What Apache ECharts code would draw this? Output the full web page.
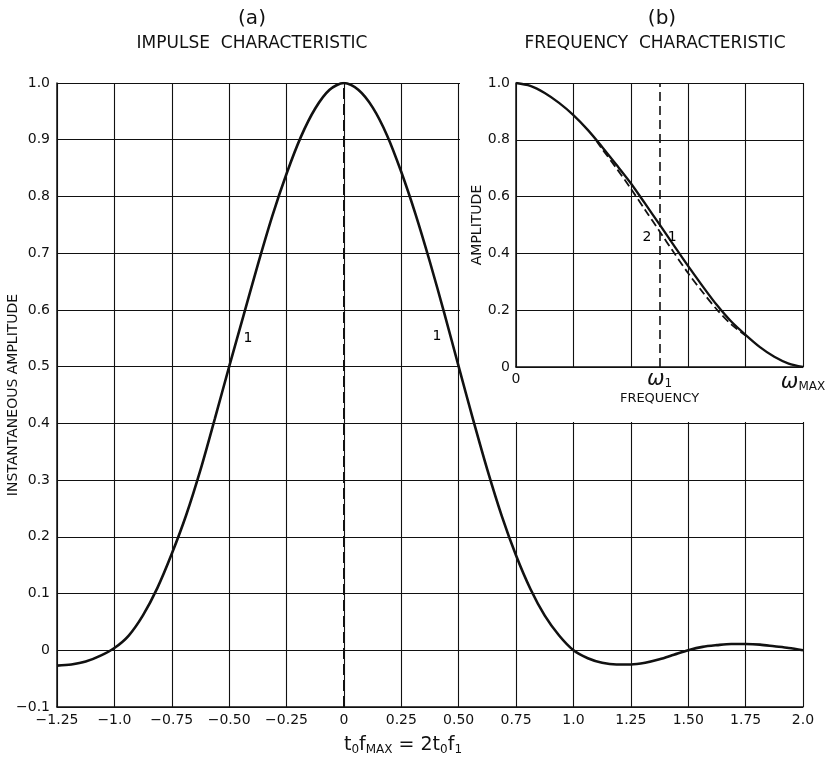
<!DOCTYPE html>
<html><head><meta charset="utf-8">
<script src="https://cdn.jsdelivr.net/npm/echarts@6/dist/echarts.min.js"></script>
<style>html,body{margin:0;padding:0;background:#fff}#c{width:826px;height:757px}</style>
</head><body><div id="c"></div>
<script>
// ---- (a) impulse characteristic ----
const impulseX = [-1.25,-1.1875,-1.125,-1.0625,-1.0,-0.9375,-0.875,-0.8125,-0.75,-0.6875,-0.625,-0.5625,-0.5,-0.4375,-0.375,-0.3125,-0.25,-0.1875,-0.125,-0.0625,0,
  0.0625,0.125,0.1875,0.25,0.3125,0.375,0.4375,0.5,0.5625,0.625,0.6875,0.75,0.8125,0.875,0.9375,1.0,1.0625,1.125,1.1875,1.25,1.3125,1.375,1.4375,1.5,1.5625,1.625,1.6875,1.75,1.8125,1.875,1.9375,2.0];
const impulseY = [-0.027,-0.025,-0.020,-0.010,0.004,0.026,0.062,0.110,0.170,0.238,0.318,0.408,0.500,0.590,0.680,0.765,0.840,0.905,0.955,0.988,1.0,
  0.988,0.957,0.908,0.843,0.768,0.684,0.594,0.500,0.407,0.318,0.237,0.167,0.108,0.061,0.026,0.0,-0.014,-0.022,-0.025,-0.025,-0.022,-0.016,-0.008,0.0,0.006,0.009,0.011,0.011,0.010,0.007,0.004,0.0];
const xTickLabels = ['\u22121.25','\u22121.0','\u22120.75','\u22120.50','\u22120.25','0','0.25','0.50','0.75','1.0','1.25','1.50','1.75','2.0'];
const yTickLabels = ['\u22120.1','0','0.1','0.2','0.3','0.4','0.5','0.6','0.7','0.8','0.9','1.0'];
const curveLabels = [['1', -0.418, 0.55], ['1', 0.405, 0.553]];

// ---- (b) frequency characteristic ----
const freqX = [0,0.05,0.1,0.15,0.2,0.25,0.3,0.35,0.4,0.45,0.5,0.55,0.6,0.65,0.7,0.75,0.8,0.85,0.9,0.95,1.0];
const freqCurve1 = [1.0,0.99,0.965,0.93,0.887,0.835,0.775,0.712,0.647,0.575,0.502,0.428,0.355,0.285,0.218,0.16,0.113,0.07,0.036,0.012,0.0];
const freqCurve2X = [0.28,0.3,0.35,0.4,0.45,0.5,0.55,0.6,0.65,0.7,0.75,0.8];
const freqCurve2 = [0.797,0.768,0.7,0.628,0.553,0.478,0.403,0.33,0.264,0.202,0.15,0.111];
const insetYTickLabels = ['0','0.2','0.4','0.6','0.8','1.0'];
const omega1 = 0.5;
const insetCurveLabels = [['2', 0.456, 0.458], ['1', 0.544, 0.458]];

const FONT = 'DejaVu Sans';
const INK = '#111';
const chart = echarts.init(document.getElementById('c'), null, {renderer: 'canvas'});

const zip = (a, b) => a.map((v, i) => [v, b[i]]);

const option = {
  backgroundColor: '#fff',
  animation: false,
  grid: [
    {left: 57, right: 23, top: 83, bottom: 50, outerBoundsMode: 'none', containLabel: false},
    {left: 516, right: 23, top: 83, bottom: 390, outerBoundsMode: 'none', containLabel: false}
  ],
  xAxis: [
    {type: 'value', gridIndex: 0, min: -1.25, max: 2.0, interval: 0.25, z: 0,
     axisLine: {show: true, onZero: false, lineStyle: {color: INK, width: 1.5}},
     axisTick: {show: false},
     splitLine: {show: true, lineStyle: {color: INK, width: 1.1}},
     axisLabel: {color: INK, fontFamily: FONT, fontSize: 14, margin: 6,
       formatter: (v, i) => xTickLabels[i]},
     name: 't{s|0}f{s|MAX} = 2t{s|0}f{s|1}', nameLocation: 'middle', nameGap: 27, nameMoveOverlap: false,
     nameTextStyle: {color: INK, fontFamily: FONT, fontSize: 19, padding: [0, 54, 0, 0],
       rich: {s: {fontFamily: FONT, fontSize: 12, color: INK, padding: [10, 0, 0, 0]}}}
    },
    {type: 'value', gridIndex: 1, min: 0, max: 1.0, interval: 0.2, z: 3,
     axisLine: {show: true, onZero: false, lineStyle: {color: INK, width: 1.5}},
     axisTick: {show: false},
     splitLine: {show: true, lineStyle: {color: INK, width: 1.1}},
     axisLabel: {color: INK, fontFamily: FONT, fontSize: 14, margin: 5,
       formatter: (v, i) => (i === 0 ? '0' : (Math.abs(v - 1) < 1e-9 ? '{w|\u03c9}{s|MAX}' : '')),
       rich: {w: {fontFamily: FONT, fontStyle: 'italic', fontSize: 21, color: INK},
              s: {fontFamily: FONT, fontSize: 12, color: INK, padding: [8, 0, 0, 0]}}},
     name: 'FREQUENCY', nameLocation: 'middle', nameGap: 25, nameMoveOverlap: false,
     nameTextStyle: {color: INK, fontFamily: FONT, fontSize: 13}
    }
  ],
  yAxis: [
    {type: 'value', gridIndex: 0, min: -0.1, max: 1.0, interval: 0.1, z: 0,
     axisLine: {show: true, onZero: false, lineStyle: {color: INK, width: 1.5}},
     axisTick: {show: false},
     splitLine: {show: true, lineStyle: {color: INK, width: 1.1}},
     axisLabel: {color: INK, fontFamily: FONT, fontSize: 14, margin: 7,
       formatter: (v, i) => yTickLabels[i]},
     name: 'INSTANTANEOUS AMPLITUDE', nameLocation: 'middle', nameGap: 37, nameRotate: 90, nameMoveOverlap: false,
     nameTextStyle: {color: INK, fontFamily: FONT, fontSize: 14}
    },
    {type: 'value', gridIndex: 1, min: 0, max: 1.0, interval: 0.2, z: 3,
     axisLine: {show: true, onZero: false, lineStyle: {color: INK, width: 1.5}},
     axisTick: {show: false},
     splitLine: {show: true, lineStyle: {color: INK, width: 1.1}},
     axisLabel: {color: INK, fontFamily: FONT, fontSize: 14, margin: 6,
       formatter: (v, i) => insetYTickLabels[i]},
     name: 'AMPLITUDE', nameLocation: 'middle', nameGap: 32, nameRotate: 90, nameMoveOverlap: false,
     nameTextStyle: {color: INK, fontFamily: FONT, fontSize: 14}
    }
  ],
  series: [
    {type: 'line', xAxisIndex: 0, yAxisIndex: 0, z: 2, smooth: 0.3,
     showSymbol: false, silent: true,
     lineStyle: {color: INK, width: 2.6},
     data: zip(impulseX, impulseY),
     markLine: {silent: true, symbol: 'none', z: 2,
       lineStyle: {color: INK, width: 2, type: [11, 5]},
       label: {show: false},
       data: [{xAxis: 0}]}
    },
    {type: 'scatter', xAxisIndex: 0, yAxisIndex: 0, z: 2, symbolSize: 0, silent: true,
     label: {show: true, position: 'inside', color: '#000', opacity: 1, fontFamily: FONT, fontSize: 14,
       formatter: p => p.data[2]},
     data: curveLabels.map(c => [c[1], c[2], c[0]])
    },
    {type: 'line', xAxisIndex: 1, yAxisIndex: 1, z: 4, smooth: 0.3,
     showSymbol: false, silent: true,
     lineStyle: {color: INK, width: 2.3},
     data: zip(freqX, freqCurve1),
     markLine: {silent: true, symbol: 'none', z: 4,
       lineStyle: {color: INK, width: 1.6, type: [9, 5]},
       label: {show: true, position: 'start', distance: 2,
         formatter: '{w|\u03c9}{s|1}',
         rich: {w: {fontFamily: FONT, fontStyle: 'italic', fontSize: 21, color: INK},
                s: {fontFamily: FONT, fontSize: 12, color: INK, padding: [8, 0, 0, 0]}}},
       data: [{xAxis: omega1}]}
    },
    {type: 'line', xAxisIndex: 1, yAxisIndex: 1, z: 4, smooth: 0.3,
     showSymbol: false, silent: true,
     lineStyle: {color: INK, width: 1.8, type: [8, 4]},
     data: zip(freqCurve2X, freqCurve2)
    },
    {type: 'scatter', xAxisIndex: 1, yAxisIndex: 1, z: 4, symbolSize: 0, silent: true,
     label: {show: true, position: 'inside', color: '#000', opacity: 1, fontFamily: FONT, fontSize: 14,
       formatter: p => p.data[2]},
     data: insetCurveLabels.map(c => [c[1], c[2], c[0]])
    }
  ]
};
chart.setOption(option);

// white mask hiding the main grid behind the inset (region x 0.5..2.0, y 0.4..1.0)
const p1 = chart.convertToPixel({gridIndex: 0}, [0.5, 1.0]);
const p2 = chart.convertToPixel({gridIndex: 0}, [2.0, 0.4]);
const x0 = p1[0] + 1.3, y0 = p1[1] - 4;
chart.setOption({
  graphic: [
    {type: 'rect', z: 1, silent: true,
     shape: {x: x0, y: y0, width: p2[0] - x0 + 6, height: p2[1] - y0 - 1.3},
     style: {fill: '#fff'}},
    {type: 'text', z: 10, x: 252, y: 19,
     style: {text: '(a)', fill: INK, font: '20px "DejaVu Sans"', align: 'center', verticalAlign: 'middle'}},
    {type: 'text', z: 10, x: 252, y: 44,
     style: {text: 'IMPULSE  CHARACTERISTIC', fill: INK, font: '17px "DejaVu Sans"', align: 'center', verticalAlign: 'middle'}},
    {type: 'text', z: 10, x: 662, y: 19,
     style: {text: '(b)', fill: INK, font: '20px "DejaVu Sans"', align: 'center', verticalAlign: 'middle'}},
    {type: 'text', z: 10, x: 655, y: 44,
     style: {text: 'FREQUENCY  CHARACTERISTIC', fill: INK, font: '17px "DejaVu Sans"', align: 'center', verticalAlign: 'middle'}}
  ]
});
</script></body></html>
